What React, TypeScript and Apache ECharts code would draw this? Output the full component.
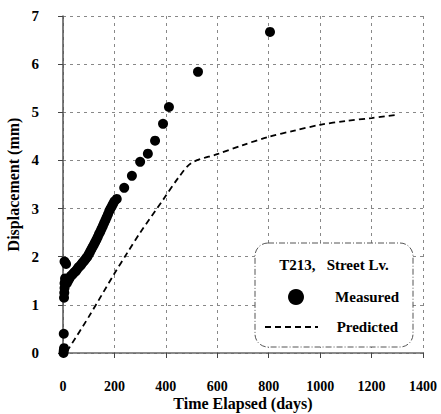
import React, { useEffect, useRef } from "react";
import * as echarts from "echarts";

const measuredDays = [2, 3, 4, 3, 4, 5, 6, 6, 8, 10, 12, 6, 15, 18, 20, 25, 30, 35, 40, 45, 50, 55, 60, 65, 70, 75, 80, 85, 90, 95, 100, 105, 110, 115, 120, 125, 130, 135, 140, 145, 150, 155, 160, 165, 170, 175, 180, 185, 190, 195, 200, 209, 238, 268, 300, 330, 358, 389, 412, 525, 805];
const measuredMm = [0.0, 0.05, 0.1, 0.4, 1.15, 1.25, 1.35, 1.45, 1.55, 1.5, 1.85, 1.9, 1.45, 1.52, 1.5, 1.55, 1.6, 1.62, 1.65, 1.68, 1.7, 1.74, 1.78, 1.8, 1.83, 1.87, 1.9, 1.93, 1.97, 2.0, 2.05, 2.1, 2.15, 2.2, 2.25, 2.3, 2.35, 2.41, 2.47, 2.52, 2.58, 2.64, 2.7, 2.76, 2.82, 2.88, 2.95, 3.0, 3.05, 3.1, 3.15, 3.2, 3.43, 3.68, 3.97, 4.14, 4.41, 4.76, 5.11, 5.84, 6.67];

const predictedDays = [15, 100, 200, 250, 300, 389, 450, 500, 600, 700, 800, 900, 1000, 1100, 1200, 1300];
const predictedMm = [0.03, 0.75, 1.65, 2.08, 2.5, 3.18, 3.65, 3.95, 4.13, 4.32, 4.49, 4.62, 4.74, 4.82, 4.88, 4.95];

const xTicks = [0, 200, 400, 600, 800, 1000, 1200, 1400];
const yTicks = [0, 1, 2, 3, 4, 5, 6, 7];

const FONT = "'Liberation Serif', 'Times New Roman', serif";

export default function App() {
  const ref = useRef<HTMLDivElement>(null);
  useEffect(() => {
    if (!ref.current) return;
    const chart = echarts.init(ref.current, undefined, { renderer: "svg" });
    const gridLine = { show: true, lineStyle: { color: "#888", type: [3, 4] as any, width: 1 } };
    chart.setOption({
      animation: false,
      backgroundColor: "#fff",
      grid: { left: 63, right: 18, top: 16, bottom: 61, outerBoundsMode: "none", containLabel: false },
      xAxis: {
        type: "value",
        min: xTicks[0],
        max: xTicks[xTicks.length - 1],
        interval: 200,
        name: "Time Elapsed (days)",
        nameLocation: "middle",
        nameGap: 42,
        nameMoveOverlap: false,
        nameTextStyle: { fontFamily: FONT, fontWeight: "bold", fontSize: 16, color: "#000" },
        axisLine: { show: true, lineStyle: { color: "#666", width: 1.5 } },
        axisTick: { show: true, length: 5, lineStyle: { color: "#444" } },
        axisLabel: { margin: 26, fontFamily: FONT, fontWeight: "bold", fontSize: 14, color: "#000", formatter: (v: number) => String(v) },
        splitLine: gridLine,
      },
      yAxis: {
        type: "value",
        min: yTicks[0],
        max: yTicks[yTicks.length - 1],
        interval: 1,
        name: "Displacement (mm)",
        nameLocation: "middle",
        nameGap: 42,
        nameMoveOverlap: false,
        nameTextStyle: { fontFamily: FONT, fontWeight: "bold", fontSize: 16, color: "#000" },
        axisLine: { show: true, lineStyle: { color: "#555", width: 1.5 } },
        axisTick: { show: true, length: 5, lineStyle: { color: "#444" } },
        axisLabel: { margin: 24, fontFamily: FONT, fontWeight: "bold", fontSize: 15, color: "#000" },
        splitLine: gridLine,
      },
      series: [
        {
          name: "Predicted",
          type: "line",
          data: predictedDays.map((d, i) => [d, predictedMm[i]]),
          showSymbol: false,
          smooth: 0.3,
          lineStyle: { color: "#000", width: 1.8, type: [6, 4] },
          z: 2,
        },
        {
          name: "Measured",
          type: "scatter",
          data: measuredDays.map((d, i) => [d, measuredMm[i]]),
          symbol: "circle",
          symbolSize: 10,
          itemStyle: { color: "#000", opacity: 1 },
          z: 3,
        },
      ],
      graphic: [
        {
          type: "rect",
          shape: { x: 255, y: 243, width: 158, height: 104, r: 13 },
          style: { fill: "#fff", stroke: "#555", lineWidth: 1, lineDash: [6, 2, 1, 2] },
          z: 10,
        },
        {
          type: "text",
          x: 334,
          y: 265,
          style: { text: "T213,   Street Lv.", fontFamily: FONT, fontWeight: "bold", fontSize: 15, fill: "#000", align: "center", verticalAlign: "middle" },
          z: 11,
        },
        {
          type: "circle",
          shape: { cx: 296, cy: 297, r: 8 },
          style: { fill: "#000" },
          z: 11,
        },
        {
          type: "text",
          x: 399,
          y: 297,
          style: { text: "Measured", fontFamily: FONT, fontWeight: "bold", fontSize: 15, fill: "#000", align: "right", verticalAlign: "middle" },
          z: 11,
        },
        {
          type: "line",
          shape: { x1: 265, y1: 327, x2: 318, y2: 327 },
          style: { stroke: "#000", lineWidth: 1.8, lineDash: [6, 4] },
          z: 11,
        },
        {
          type: "text",
          x: 398,
          y: 327,
          style: { text: "Predicted", fontFamily: FONT, fontWeight: "bold", fontSize: 15, fill: "#000", align: "right", verticalAlign: "middle" },
          z: 11,
        },
      ],
    });
    return () => chart.dispose();
  }, []);
  return <div ref={ref} style={{ width: 441, height: 414, position: "absolute", left: 0, top: 0 }} />;
}
